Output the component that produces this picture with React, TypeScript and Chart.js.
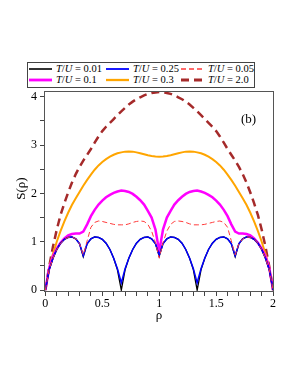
import React, { useEffect, useRef } from "react";
import { Chart, registerables } from "chart.js";

Chart.register(...registerables);

// density grid
const rho = [
  0, 0.033, 0.067, 0.1, 0.133, 0.167, 0.2, 0.233, 0.267, 0.3,
  0.333, 0.367, 0.4, 0.433, 0.467, 0.5, 0.533, 0.567, 0.6, 0.633,
  0.667, 0.7, 0.733, 0.767, 0.8, 0.833, 0.867, 0.9, 0.933, 0.967,
  1, 1.033, 1.067, 1.1, 1.133, 1.167, 1.2, 1.233, 1.267, 1.3,
  1.333, 1.367, 1.4, 1.433, 1.467, 1.5, 1.533, 1.567, 1.6, 1.633,
  1.667, 1.7, 1.733, 1.767, 1.8, 1.833, 1.867, 1.9, 1.933, 1.967, 2,
];

// T/U = 0.01
const sT001 = [
  0, 0.42, 0.66, 0.84, 0.97, 1.05, 1.09, 1.1, 1.06, 0.96,
  0.69, 0.96, 1.06, 1.1, 1.09, 1.05, 0.97, 0.84, 0.66, 0.42,
  0, 0.42, 0.66, 0.84, 0.97, 1.05, 1.09, 1.1, 1.06, 0.96,
  0.7, 0.96, 1.06, 1.1, 1.09, 1.05, 0.97, 0.84, 0.66, 0.42,
  0, 0.42, 0.66, 0.84, 0.97, 1.05, 1.09, 1.1, 1.06, 0.96,
  0.69, 0.96, 1.06, 1.1, 1.09, 1.05, 0.97, 0.84, 0.66, 0.42, 0,
];

// T/U = 0.25
const sT025 = [
  0, 0.42, 0.66, 0.84, 0.97, 1.05, 1.09, 1.1, 1.06, 0.96,
  0.71, 0.96, 1.06, 1.1, 1.09, 1.05, 0.97, 0.84, 0.66, 0.44,
  0.15, 0.44, 0.66, 0.84, 0.97, 1.05, 1.09, 1.1, 1.06, 0.96,
  0.72, 0.96, 1.06, 1.1, 1.09, 1.05, 0.97, 0.84, 0.66, 0.44,
  0.15, 0.44, 0.66, 0.84, 0.97, 1.05, 1.09, 1.1, 1.06, 0.96,
  0.71, 0.96, 1.06, 1.1, 1.09, 1.05, 0.97, 0.84, 0.66, 0.42, 0,
];

// T/U = 0.05
const sT005 = [
  0, 0.42, 0.66, 0.84, 0.97, 1.05, 1.09, 1.1, 1.06, 0.96,
  0.73, 1.02, 1.3, 1.4, 1.43, 1.42, 1.4, 1.38, 1.36, 1.35,
  1.35, 1.35, 1.37, 1.4, 1.42, 1.43, 1.42, 1.36, 1.22, 0.98,
  0.66, 0.98, 1.22, 1.36, 1.42, 1.43, 1.42, 1.4, 1.37, 1.35,
  1.35, 1.35, 1.36, 1.38, 1.4, 1.42, 1.43, 1.4, 1.3, 1.02,
  0.73, 0.96, 1.06, 1.1, 1.09, 1.05, 0.97, 0.84, 0.66, 0.42, 0,
];

// T/U = 0.1
const sT01 = [
  0, 0.45, 0.7, 0.86, 0.98, 1.07, 1.13, 1.16, 1.17, 1.17,
  1.21, 1.36, 1.53, 1.66, 1.77, 1.85, 1.92, 1.97, 2.01, 2.04,
  2.06, 2.05, 2.03, 1.99, 1.93, 1.86, 1.77, 1.64, 1.5, 1.25,
  0.8, 1.25, 1.5, 1.64, 1.77, 1.86, 1.93, 1.99, 2.03, 2.05,
  2.06, 2.04, 2.01, 1.97, 1.92, 1.85, 1.77, 1.66, 1.53, 1.36,
  1.21, 1.17, 1.17, 1.16, 1.13, 1.07, 0.98, 0.86, 0.7, 0.45, 0,
];

// T/U = 0.3
const sT03 = [
  0, 0.45, 0.75, 1.0, 1.22, 1.42, 1.6, 1.76, 1.9, 2.03,
  2.16, 2.28, 2.39, 2.49, 2.58, 2.65, 2.71, 2.76, 2.8, 2.83,
  2.85, 2.865, 2.87, 2.865, 2.85, 2.83, 2.81, 2.79, 2.775, 2.765,
  2.76, 2.765, 2.775, 2.79, 2.81, 2.83, 2.85, 2.865, 2.87, 2.865,
  2.85, 2.83, 2.8, 2.76, 2.71, 2.65, 2.58, 2.49, 2.39, 2.28,
  2.16, 2.03, 1.9, 1.76, 1.6, 1.42, 1.22, 1.0, 0.75, 0.45, 0,
];

// T/U = 2.0
const sT20 = [
  0, 0.48, 0.9, 1.25, 1.55, 1.8, 2.02, 2.22, 2.4, 2.55,
  2.68, 2.8, 2.92, 3.05, 3.18, 3.29, 3.38, 3.46, 3.54, 3.62,
  3.7, 3.77, 3.84, 3.9, 3.95, 3.99, 4.03, 4.06, 4.08, 4.09,
  4.1, 4.09, 4.08, 4.06, 4.03, 3.99, 3.95, 3.9, 3.84, 3.77,
  3.7, 3.62, 3.54, 3.46, 3.38, 3.29, 3.18, 3.05, 2.92, 2.8,
  2.68, 2.55, 2.4, 2.22, 2.02, 1.8, 1.55, 1.25, 0.9, 0.48, 0,
];

const xTicksLabeled = [0, 0.5, 1, 1.5, 2];
const yTicksLabeled = [0, 1, 2, 3, 4];

const FONT = "'Liberation Serif', 'Times New Roman', serif";

type Series = {
  label: string;
  values: number[];
  color: string;
  width: number;
  dash: number[];
  order: number;
};

const series: Series[] = [
  { label: "0.01", values: sT001, color: "#000000", width: 1.3, dash: [], order: 2 },
  { label: "0.25", values: sT025, color: "#0000ff", width: 1.5, dash: [], order: 1 },
  { label: "0.05", values: sT005, color: "#ff3a3a", width: 1, dash: [5, 3], order: 0 },
  { label: "0.1", values: sT01, color: "#ff00ff", width: 2.5, dash: [], order: 3 },
  { label: "0.3", values: sT03, color: "#ffa500", width: 2, dash: [], order: 4 },
  { label: "2.0", values: sT20, color: "#a52a2a", width: 2.5, dash: [8, 5], order: 5 },
];

const framePlugin = {
  id: "frame",
  afterDraw(chart: any) {
    const { ctx, chartArea } = chart;
    const { left, top, right, bottom } = chartArea;
    ctx.save();
    ctx.strokeStyle = "#555555";
    ctx.lineWidth = 1;
    ctx.strokeRect(left + 0.5, top + 0.5, right - left - 1, bottom - top - 1);
    // panel tag
    const xs = chart.scales.x;
    const ys = chart.scales.y;
    ctx.fillStyle = "#000";
    ctx.font = `13px ${FONT}`;
    ctx.textAlign = "center";
    ctx.textBaseline = "middle";
    ctx.fillText("(b)", xs.getPixelForValue(1.785), ys.getPixelForValue(3.52));
    // y-axis title
    ctx.translate(21.5, ys.getPixelForValue(2.1));
    ctx.rotate(-Math.PI / 2);
    ctx.fillText("S(ρ)", 0, 0);
    ctx.restore();
  },
};

function LegendLine({ color, width, dash }: { color: string; width: number; dash: number[] }) {
  return (
    <svg width={23} height={6} style={{ display: "block" }}>
      <line
        x1={0}
        y1={3}
        x2={23}
        y2={3}
        stroke={color}
        strokeWidth={width}
        strokeDasharray={dash.length ? dash.join(",") : undefined}
      />
    </svg>
  );
}

export default function App() {
  const canvasRef = useRef<HTMLCanvasElement | null>(null);

  useEffect(() => {
    const canvas = canvasRef.current;
    if (!canvas) return;
    const chart = new Chart(canvas, {
      type: "line",
      data: {
        datasets: series.map((s) => ({
          label: "T/U = " + s.label,
          data: rho.map((x, i) => ({ x, y: s.values[i] })),
          borderColor: s.color,
          borderWidth: s.width,
          borderDash: s.dash,
          pointRadius: 0,
          tension: 0,
          fill: false,
          order: s.order,
        })),
      },
      options: {
        responsive: false,
        animation: false,
        devicePixelRatio: 1,
        layout: { padding: { left: 0, top: 91, right: 24, bottom: 53 } },
        plugins: { legend: { display: false }, tooltip: { enabled: false } },
        scales: {
          x: {
            type: "linear",
            min: -0.012,
            max: 2.008,
            afterFit: (scale: any) => {
              scale.height = 40;
            },
            border: { display: false },
            grid: { drawOnChartArea: false, drawTicks: true, tickLength: 4, color: "#444" },
            ticks: {
              stepSize: 0.1,
              includeBounds: false,
              autoSkip: false,
              maxRotation: 0,
              padding: 1,
              color: "#000",
              font: { family: FONT, size: 12 },
              callback: (v: any) => {
                const r = Math.round(Number(v) * 10) / 10;
                return xTicksLabeled.includes(r) ? String(r) : "";
              },
            },
            title: {
              display: true,
              text: "ρ",
              color: "#000",
              font: { family: FONT, size: 13 },
              padding: { top: 0, bottom: 9 },
            },
          },
          y: {
            type: "linear",
            min: -0.04,
            max: 4.12,
            afterFit: (scale: any) => {
              scale.width = 44;
            },
            border: { display: false },
            grid: { drawOnChartArea: false, drawTicks: true, tickLength: 4, color: "#444" },
            ticks: {
              stepSize: 0.5,
              includeBounds: false,
              autoSkip: false,
              padding: 3,
              color: "#000",
              font: { family: FONT, size: 12 },
              callback: (v: any) => {
                const r = Math.round(Number(v) * 10) / 10;
                return yTicksLabeled.includes(r) ? String(r) : "";
              },
            },
            title: { display: false },
          },
        },
      },
      plugins: [framePlugin],
    });
    return () => chart.destroy();
  }, []);

  const colX = [1, 78, 153];
  const rowY = [6, 17];

  return (
    <div
      style={{
        position: "fixed",
        left: 0,
        top: 0,
        width: 298,
        height: 385,
        background: "#fff",
        fontFamily: FONT,
      }}
    >
      <canvas ref={canvasRef} width={298} height={385} style={{ position: "absolute", left: 0, top: 0 }} />
      <div
        style={{
          position: "absolute",
          left: 27,
          top: 62,
          width: 228,
          height: 26,
          boxSizing: "border-box",
          border: "1px solid #444",
          background: "#fff",
        }}
      >
        {series.map((s, i) => {
          const col = i % 3;
          const row = Math.floor(i / 3);
          return (
            <div
              key={s.label}
              style={{
                position: "absolute",
                left: colX[col],
                top: rowY[row] - 6,
                height: 12,
                display: "flex",
                alignItems: "center",
                whiteSpace: "nowrap",
                fontSize: 10.5,
                lineHeight: "12px",
                color: "#000",
              }}
            >
              <LegendLine color={s.color} width={s.width + 0.3} dash={s.dash} />
              <span style={{ marginLeft: 4 }}>
                <i>T</i>/<i>U</i> = {s.label}
              </span>
            </div>
          );
        })}
      </div>
    </div>
  );
}
